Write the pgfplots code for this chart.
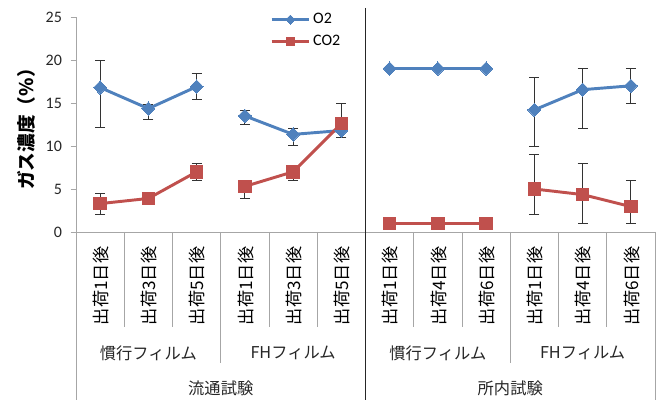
\documentclass[border=0pt]{standalone}
\usepackage{fontspec}
\setmainfont{Carlito}
\newfontfamily\jp{Noto Sans CJK JP}
\usepackage{pgfplots}
\pgfplotsset{compat=1.18}
\definecolor{oblue}{HTML}{4F81BD}
\definecolor{cred}{HTML}{C0504D}
\definecolor{gline}{HTML}{A6A6A6}
\begin{document}
\begin{tikzpicture}
\begin{axis}[
  at={(57pt,128.25pt)}, anchor=south west,
  scale only axis, width=434.25pt, height=161.25pt,
  xmin=-0.5, xmax=11.5, ymin=0, ymax=25,
  clip=false,
  axis lines=left,
  axis line style={draw=gline, line width=0.6pt, -},
  xtick={0,...,11},
  xticklabels={出荷1日後,出荷3日後,出荷5日後,出荷1日後,出荷3日後,出荷5日後,出荷1日後,出荷4日後,出荷6日後,出荷1日後,出荷4日後,出荷6日後},
  xticklabel style={font=\jp\fontsize{12.9}{13}\selectfont, rotate=90, anchor=east, yshift=-0.5pt, xshift=-3.5pt},
  xtick style={draw=none},
  ytick={0,5,...,25},
  tick align=outside,
  major tick length=4pt,
  ytick style={draw=gline, line width=0.6pt},
  yticklabel style={font=\fontsize{12}{13}\selectfont, text=black!85, xshift=-3pt},
  /pgf/number format/assume math mode=true,
  ylabel={\jp\bfseries ガス濃度（\%）},
  every axis y label/.style={at={(axis description cs:-0.085,0.5)}, rotate=90, anchor=center, font=\fontsize{14}{15}\selectfont},
  legend style={at={(rel axis cs:0.335,1.03)}, anchor=north west, draw=none, fill=none,
    font=\fontsize{12}{13}\selectfont, row sep=3pt, inner sep=0pt, legend cell align=left},
  legend image code/.code={\draw[mark repeat=2,mark phase=2,#1] plot coordinates {(0pt,0pt) (14pt,0pt) (28pt,0pt)};},
  error bars/y dir=both, error bars/y explicit,
  error bars/error bar style={black!80, line width=0.6pt},
  error bars/error mark options={rotate=90, mark size=3.75pt, black!80, line width=0.6pt},
]
% legend images
\addlegendimage{oblue, line width=2.2pt, mark=diamond*, mark size=3.5pt, mark options={xscale=1.3, fill=oblue, draw=oblue, line width=0pt}}
\addlegendentry{O2}
\addlegendimage{cred, line width=2.2pt, mark=square*, mark size=3.2pt, mark options={fill=cred, draw=cred, line width=0pt}}
\addlegendentry{CO2}

\pgfplotsset{
  o2/.style={oblue, line width=2.2pt, mark=diamond*, mark size=5pt, mark options={xscale=1.3, fill=oblue, draw=oblue, line width=0pt}, forget plot},
  co2/.style={cred, line width=2.2pt, mark=square*, mark size=4.7pt, mark options={fill=cred, draw=cred, line width=0pt}, forget plot},
}
% O2
\addplot[o2] coordinates {(0,16.8) += (0,3.2) -= (0,4.6) (1,14.35) += (0,0.5) -= (0,1.3) (2,16.9) += (0,1.6) -= (0,1.45)};
\addplot[o2] coordinates {(3,13.5) += (0,0.65) -= (0,0.95) (4,11.35) += (0,0.7) -= (0,1.3) (5,11.8) += (0,0.5) -= (0,0.75)};
\addplot[o2, error bars/y dir=none] coordinates {(6,19.0) (7,19.0) (8,19.0)};
\addplot[o2] coordinates {(9,14.2) += (0,3.8) -= (0,4.2) (10,16.55) += (0,2.45) -= (0,4.5) (11,17.0) += (0,2.0) -= (0,2.05)};
% CO2
\addplot[co2] coordinates {(0,3.3) += (0,1.15) -= (0,1.3) (1,3.9) += (0,0.3) -= (0,0.3) (2,7.0) += (0,0.95) -= (0,1.0)};
\addplot[co2] coordinates {(3,5.3) += (0,0.4) -= (0,1.35) (4,7.0) += (0,0.4) -= (0,1.0) (5,12.6) += (0,2.35) -= (0,0.5)};
\addplot[co2, error bars/y dir=none] coordinates {(6,1.0) (7,1.0) (8,1.0)};
\addplot[co2] coordinates {(9,5.0) += (0,4.0) -= (0,3.0) (10,4.35) += (0,3.6) -= (0,3.35) (11,2.95) += (0,3.0) -= (0,1.95)};

% category dividers
\pgfplotsinvokeforeach{0.5,1.5,3.5,4.5,6.5,7.5,9.5,10.5}{
  \draw[gline, line width=0.6pt] (axis cs:#1,0) -- ([yshift=-71.25pt]axis cs:#1,0);
}
\pgfplotsinvokeforeach{2.5,8.5}{
  \draw[gline, line width=0.6pt] (axis cs:#1,0) -- ([yshift=-98.25pt]axis cs:#1,0);
}
\pgfplotsinvokeforeach{-0.5,11.5}{
  \draw[gline, line width=0.6pt] (axis cs:#1,0) -- ([yshift=-126pt]axis cs:#1,0);
}
\draw[black!85, line width=0.7pt] ([yshift=6.75pt]axis cs:5.5,25) -- ([yshift=-126pt]axis cs:5.5,0);
% group labels
\node[font=\jp\fontsize{12.2}{13}\selectfont, text=black!85] at ([yshift=-90.75pt]axis cs:1,0) {慣行フィルム};
\node[font=\jp\fontsize{12.2}{13}\selectfont, text=black!85] at ([yshift=-90.75pt]axis cs:4,0) {FHフィルム};
\node[font=\jp\fontsize{12.2}{13}\selectfont, text=black!85] at ([yshift=-90.75pt]axis cs:7,0) {慣行フィルム};
\node[font=\jp\fontsize{12.2}{13}\selectfont, text=black!85] at ([yshift=-90.75pt]axis cs:10,0) {FHフィルム};
\node[font=\jp\fontsize{12.2}{13}\selectfont, text=black!85] at ([yshift=-117pt]axis cs:2.5,0) {流通試験};
\node[font=\jp\fontsize{12.2}{13}\selectfont, text=black!85] at ([yshift=-117pt]axis cs:8.5,0) {所内試験};
\end{axis}
\pgfresetboundingbox
\useasboundingbox (0,0) rectangle (495pt,302.25pt);
\end{tikzpicture}
\end{document}
